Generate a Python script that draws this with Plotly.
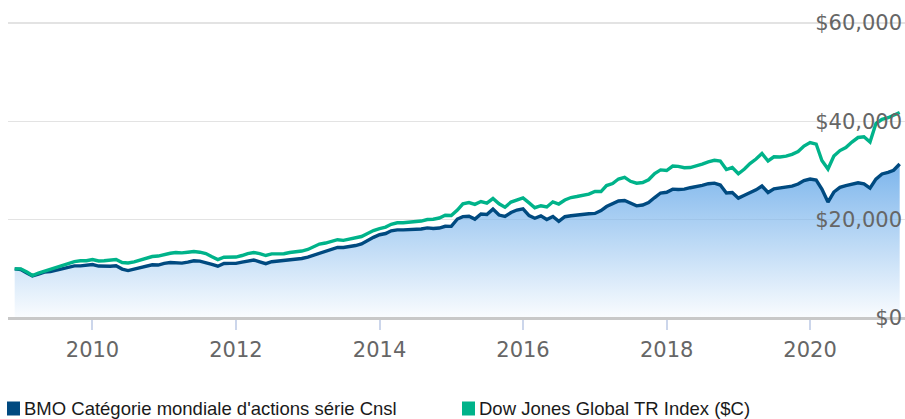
import pandas as pd
import plotly.graph_objects as go

# Monthly dates (Dec 2008 .. Apr 2021)
dates = pd.date_range("2008-12-01", periods=149, freq="MS")

bmo_name = "BMO Catégorie mondiale d'actions série Cnsl"
dj_name = "Dow Jones Global TR Index ($C)"

bmo_values = [
    10000, 9860, 9150, 8580, 8940, 9350, 9450, 9760, 10060, 10410,
    10610, 10610, 10770, 10870, 10570, 10470, 10530, 10610, 9960, 9650,
    9960, 10160, 10470, 10830, 10770, 11120, 11280, 11220, 11160, 11380,
    11650, 11570, 11320, 10920, 10530, 11080, 11120, 11100, 11360, 11630,
    11790, 11420, 11040, 11440, 11590, 11630, 11790, 11930, 12100, 12400,
    12810, 13320, 13720, 14130, 14370, 14330, 14470, 14740, 15060, 15800,
    16410, 16940, 17180, 17730, 17930, 17930, 17970, 18010, 18100, 18320,
    18200, 18300, 18660, 18640, 20130, 20620, 20700, 20110, 21150, 21040,
    22140, 20940, 20640, 21450, 21960, 22220, 20840, 20290, 20780, 20030,
    20640, 19660, 20600, 20800, 20980, 21110, 21210, 21270, 21860, 22670,
    23180, 23790, 23890, 23340, 22810, 22980, 23490, 24500, 25420, 25580,
    26210, 26130, 26210, 26500, 26680, 26980, 27310, 27430, 27040, 25440,
    25520, 24380, 24950, 25420, 26070, 26840, 25520, 26270, 26460, 26540,
    26820, 27250, 27960, 28270, 28060, 26230, 23590, 25620, 26580, 26940,
    27230, 27510, 27270, 26410, 28250, 29300, 29630, 30040, 31320,
]

dj_values = [
    10000, 10000, 9350, 8640, 9150, 9550, 9860, 10370, 10710, 11180,
    11480, 11630, 11650, 11890, 11590, 11650, 11790, 11890, 11280, 11180,
    11420, 11790, 12200, 12500, 12600, 12910, 13170, 13320, 13250, 13380,
    13520, 13380, 13110, 12460, 11890, 12360, 12400, 12400, 12710, 13110,
    13320, 13110, 12710, 13050, 13050, 13070, 13320, 13420, 13620, 13930,
    14540, 15040, 15250, 15510, 15920, 15800, 16040, 16260, 16570, 17180,
    17790, 18200, 18500, 19070, 19360, 19360, 19480, 19600, 19720, 20030,
    20090, 20330, 20900, 20840, 21960, 23220, 23490, 23120, 23690, 23380,
    24300, 23220, 22530, 23590, 23990, 24440, 23420, 22430, 22830, 22570,
    23630, 23180, 23990, 24500, 24710, 24910, 25210, 25760, 25720, 26940,
    27350, 28270, 28610, 27800, 27410, 27550, 28120, 29380, 30120, 29990,
    30910, 30850, 30560, 30600, 30890, 31300, 31760, 32070, 31930, 30200,
    30600, 29340, 30300, 31420, 32330, 33450, 31930, 32780, 32740, 32920,
    33290, 33860, 34980, 35690, 35380, 32030, 30300, 32940, 34060, 34670,
    35790, 36710, 36850, 35790, 39550, 40410, 40730, 41180, 41790,
]

y_ticks = [0, 20000, 40000, 60000]

BMO_COLOR = "#004a80"
DJ_COLOR = "#00b38a"
AXIS_FONT = dict(family="DejaVu Sans", size=21, color="#666666")
LEGEND_FONT = dict(family="Liberation Sans, Arial", size=18.5, color="#1a1a1a")

# figure geometry (pixels)
W, H = 905, 419
ML, MR, MT, MB = 8, 0, 6, 74
PW, PH = W - ML - MR, H - MT - MB
BASELINE_PX = 318  # pixel row of the $0 baseline


def px_x(px):
    return (px - ML) / PW


def px_y(py):
    return (H - MB - py) / PH


fig = go.Figure()

fig.add_trace(go.Scatter(
    x=dates, y=bmo_values, name=bmo_name, mode="lines",
    line=dict(color=BMO_COLOR, width=3.4),
    fill="tozeroy",
    fillgradient=dict(
        type="vertical",
        colorscale=[[0, "rgba(124,181,236,0.04)"], [1, "rgba(124,181,236,1)"]],
        start=0, stop=max(bmo_values),
    ),
    showlegend=False,
))
fig.add_trace(go.Scatter(
    x=dates, y=dj_values, name=dj_name, mode="lines",
    line=dict(color=DJ_COLOR, width=3.4),
    showlegend=False,
))

# legend drawn below the plot: colour squares + labels
legend_items = [(bmo_name, BMO_COLOR, 13.5), (dj_name, DJ_COLOR, 468.5)]
for nm, col, cx in legend_items:
    fig.add_shape(
        type="rect", xref="paper", yref="paper",
        xsizemode="pixel", ysizemode="pixel",
        xanchor=px_x(cx), yanchor=px_y(408.5),
        x0=-6.5, x1=6.5, y0=-7, y1=7,
        fillcolor=col, line=dict(width=0),
    )
    fig.add_annotation(
        text=nm, xref="paper", yref="paper",
        x=px_x(cx + 8), y=px_y(408.5), xanchor="left", yanchor="middle",
        showarrow=False, font=LEGEND_FONT,
    )

fig.update_layout(
    width=W, height=H,
    margin=dict(l=ML, r=MR, t=MT, b=MB),
    paper_bgcolor="white", plot_bgcolor="white",
    hovermode=False,
    showlegend=False,
    xaxis=dict(
        type="date",
        range=["2008-10-28", "2021-04-28"],
        anchor="free", position=px_y(BASELINE_PX),
        tick0="2010-01-01", dtick="M24", tickformat="%Y",
        showgrid=False, zeroline=False,
        showline=True, linecolor="#c8c8c8", linewidth=2.5,
        ticks="outside", ticklen=10, tickwidth=2, tickcolor="#ccd6eb",
        ticklabelstandoff=2,
        tickfont=AXIS_FONT,
    ),
    yaxis=dict(
        range=[-5492, 63458], tickvals=y_ticks,
        ticktext=[f"${v:,}" for v in y_ticks],
        side="right", ticklabelposition="inside",
        showgrid=True, gridcolor="#e3e3e3", gridwidth=1.5,
        zeroline=False, showline=False, ticks="",
        tickfont=AXIS_FONT,
    ),
)

fig.write_html(
    "out.html",
    config={"displayModeBar": False, "staticPlot": True},
    post_script="document.body.style.margin='0';",
)
